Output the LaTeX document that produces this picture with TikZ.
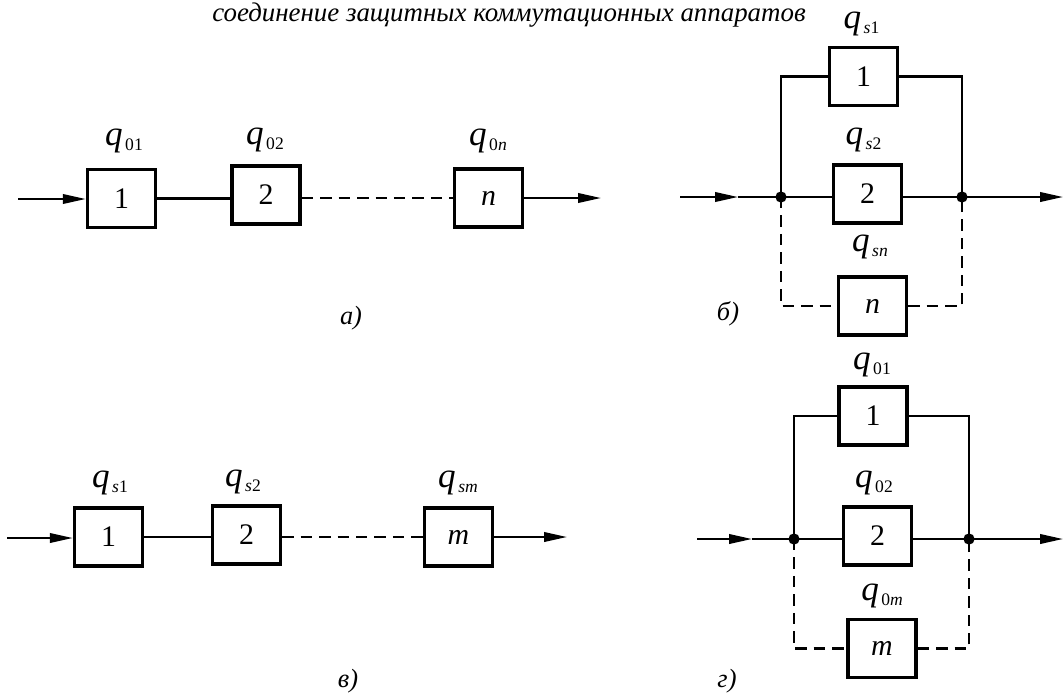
\documentclass[tikz,border=0pt]{standalone}
\usepackage{fontspec}
\setmainfont{Liberation Serif}
\usepackage{tikz}
\usetikzlibrary{arrows.meta,positioning}
\newcommand{\qlab}[1]{\textit{q}\kern1.4pt\raisebox{-3pt}{\fontsize{10}{11}\selectfont #1}}

\tikzset{
  blk/.style={draw, line width=2pt, minimum width=1.36cm, minimum height=1.16cm, inner sep=0pt, font=\fontsize{17}{18}\selectfont},
  wire/.style={line width=1.25pt},
  dwire/.style={wire, dash pattern=on 6.5pt off 4pt},
  flow/.style={wire, -{Triangle[length=4.6mm,width=1.9mm]}},
  jn/.style={circle, fill, inner sep=0pt, minimum size=6.4pt},
  qlbl/.style={anchor=base, font=\fontsize{20}{22}\selectfont},
  tag/.style={anchor=base, font=\fontsize{15}{16}\selectfont\itshape},
  ttl/.style={anchor=base, inner sep=0pt, font=\fontsize{15.3}{17}\selectfont\itshape}
}

\begin{document}
\begin{tikzpicture}[x=0.02cm,y=-0.02cm]
  \useasboundingbox (0,0) rectangle (1064,697);
  \node[ttl] (title) at (509,21) {соединение защитных коммутационных аппаратов};

  \node[blk] (a1) at (121.5,198.5) {1};
  \node[blk] (a2) at (266,195) {2};
  \node[blk] (an) at (488.5,198) {\textit{n}};
  \coordinate (ain) at (18,199);
  \coordinate (aout) at (601,198);
  \node[qlbl] (qa1) at (124,145) {\qlab{01}};
  \node[qlbl] (qa2) at (265,144) {\qlab{02}};
  \node[qlbl] (qan) at (488,145) {\qlab{0\textit{n}}};
  \draw[flow] (ain) -- (ain -| a1.west);
  \draw[wire] (a1.east) -- (a1.east -| a2.west);
  \draw[dwire] (a2.east |- an.west) -- (an.west);
  \draw[flow] (an.east) -- (aout);
  \node[tag] (ta) at (351,324) {а)};

  \node[blk] (b1) at (863.5,76.5) {1};
  \node[blk] (b2) at (867.5,194) {2};
  \node[blk] (bn) at (872.5,306) {\textit{n}};
  \node[jn] (bj1) at (781,197) {};
  \node[jn] (bj2) at (962,197) {};
  \coordinate (bin) at (680,197);
  \coordinate (btip) at (738,197);
  \coordinate (bout) at (1063,197);
  \node[qlbl] (qb1) at (861.5,28) {\qlab{\textit{s}1}};
  \node[qlbl] (qb2) at (863.5,144) {\qlab{\textit{s}2}};
  \node[qlbl] (qbn) at (870,251) {\qlab{\textit{sn}}};
  \draw[flow] (bin) -- (btip);
  \draw[wire] (btip) -- (bj1.center) -- (bj1 -| b2.west);
  \draw[wire] (bj1.center) |- (b1.west);
  \draw[wire] (b1.east) -| (bj2.center);
  \draw[wire] (bj1 -| b2.east) -- (bj2.center);
  \draw[flow] (bj2.center) -- (bout);
  \draw[dwire] (bj1.center) |- (bn.west);
  \draw[dwire] (bn.east) -| (bj2.center);
  \node[tag] (tb) at (728,320) {б)};

  \node[blk] (c1) at (108.5,537) {1};
  \node[blk] (c2) at (246.5,535) {2};
  \node[blk] (cm) at (458.5,537) {\textit{m}};
  \coordinate (cin) at (7,538);
  \coordinate (cout) at (567,537);
  \node[qlbl] (qc1) at (110,487) {\qlab{\textit{s}1}};
  \node[qlbl] (qc2) at (243,486) {\qlab{\textit{s}2}};
  \node[qlbl] (qcm) at (458,487) {\qlab{\textit{sm}}};
  \draw[flow] (cin) -- (cin -| c1.west);
  \draw[wire] (c1.east) -- (c1.east -| c2.west);
  \draw[dwire] (c2.east |- cm.west) -- (cm.west);
  \draw[flow] (cm.east) -- (cout);
  \node[tag] (tc) at (348,687) {в)};

  \node[blk] (d1) at (873,416) {1};
  \node[blk] (d2) at (877.5,536) {2};
  \node[blk] (dm) at (882,648.5) {\textit{m}};
  \node[jn] (dj1) at (794,539) {};
  \node[jn] (dj2) at (969,539) {};
  \coordinate (din) at (697,539);
  \coordinate (dtip) at (752,539);
  \coordinate (dout) at (1063,539);
  \node[qlbl] (qd1) at (872,369) {\qlab{01}};
  \node[qlbl] (qd2) at (874,487) {\qlab{02}};
  \node[qlbl] (qdm) at (882,600) {\qlab{0\textit{m}}};
  \draw[flow] (din) -- (dtip);
  \draw[wire] (dtip) -- (dj1.center) -- (dj1 -| d2.west);
  \draw[wire] (dj1.center) |- (d1.west);
  \draw[wire] (d1.east) -| (dj2.center);
  \draw[wire] (dj1 -| d2.east) -- (dj2.center);
  \draw[flow] (dj2.center) -- (dout);
  \draw[dwire] (dj1.center) |- (dm.west);
  \draw[dwire] (dm.east) -| (dj2.center);
  \node[tag] (td) at (727,687) {г)};
\end{tikzpicture}
\end{document}
